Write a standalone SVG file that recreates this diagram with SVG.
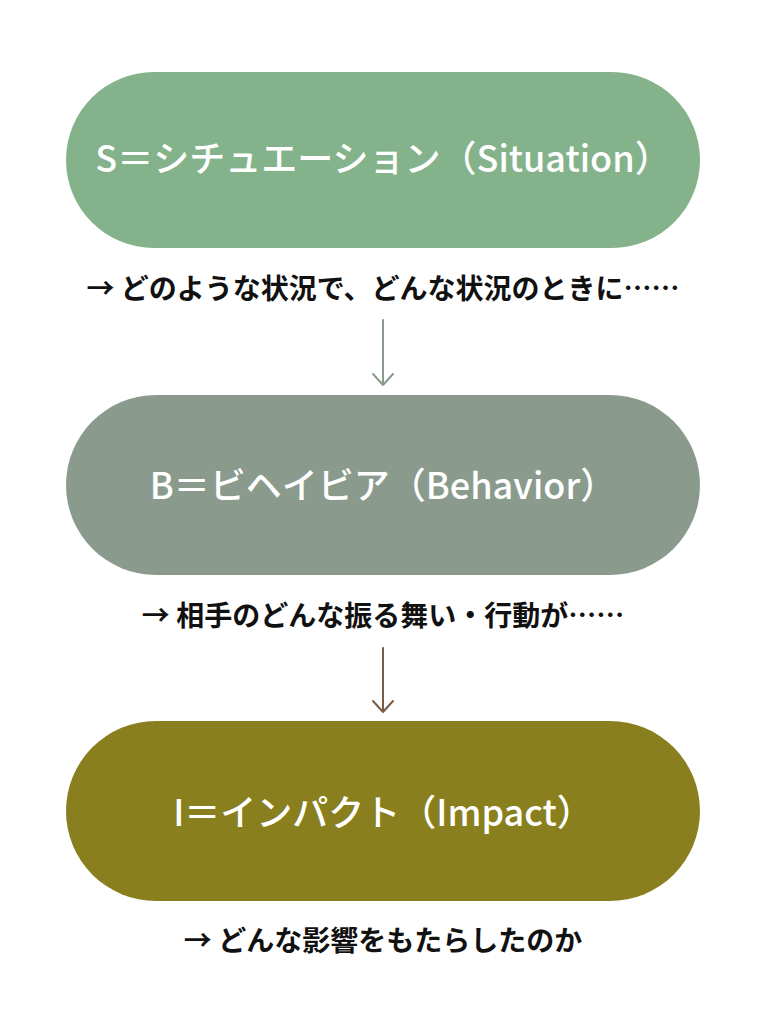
<svg xmlns="http://www.w3.org/2000/svg" width="765" height="1024" viewBox="0 0 765 1024">
<style>
.title{font-family:"Noto Sans CJK JP","Noto Sans",sans-serif;font-size:36px;font-weight:500;fill:#ffffff;text-anchor:middle}
.cap{font-family:"Noto Sans CJK JP","Noto Sans",sans-serif;font-size:28px;font-weight:700;fill:#111111;text-anchor:middle}
.conn{fill:none;stroke-width:2;stroke-linecap:round;stroke-linejoin:round}
</style>
<rect width="765" height="1024" fill="#ffffff"/>
<g id="node-s">
<rect x="66" y="72" width="634" height="176" rx="88" fill="#84B38B"/>
<text class="title" x="383" y="172">S＝シチュエーション（Situation）</text>
</g>
<g id="caption-s">
<text class="cap" x="383" y="299">→ どのような状況で、どんな状況のときに……</text>
</g>
<g id="node-b">
<rect x="66" y="395" width="634" height="180" rx="90" fill="#8A9B8E"/>
<text class="title" x="383" y="499">B＝ビヘイビア（Behavior）</text>
</g>
<g id="caption-b">
<text class="cap" x="383" y="626">→ 相手のどんな振る舞い・行動が……</text>
</g>
<g id="node-i">
<rect x="66" y="721" width="634" height="180" rx="90" fill="#8A7F1E"/>
<text class="title" x="383" y="826">I＝インパクト（Impact）</text>
</g>
<g id="caption-i">
<text class="cap" x="383" y="951">→ どんな影響をもたらしたのか</text>
</g>
<g id="connectors">
<path class="conn" stroke="#8A9B8E" d="M383 320 V385 M373 374 L383 385 L393 374"/>
<path class="conn" stroke="#7A5C45" d="M383 648 V712 M373 701 L383 712 L393 701"/>
</g>
</svg>
